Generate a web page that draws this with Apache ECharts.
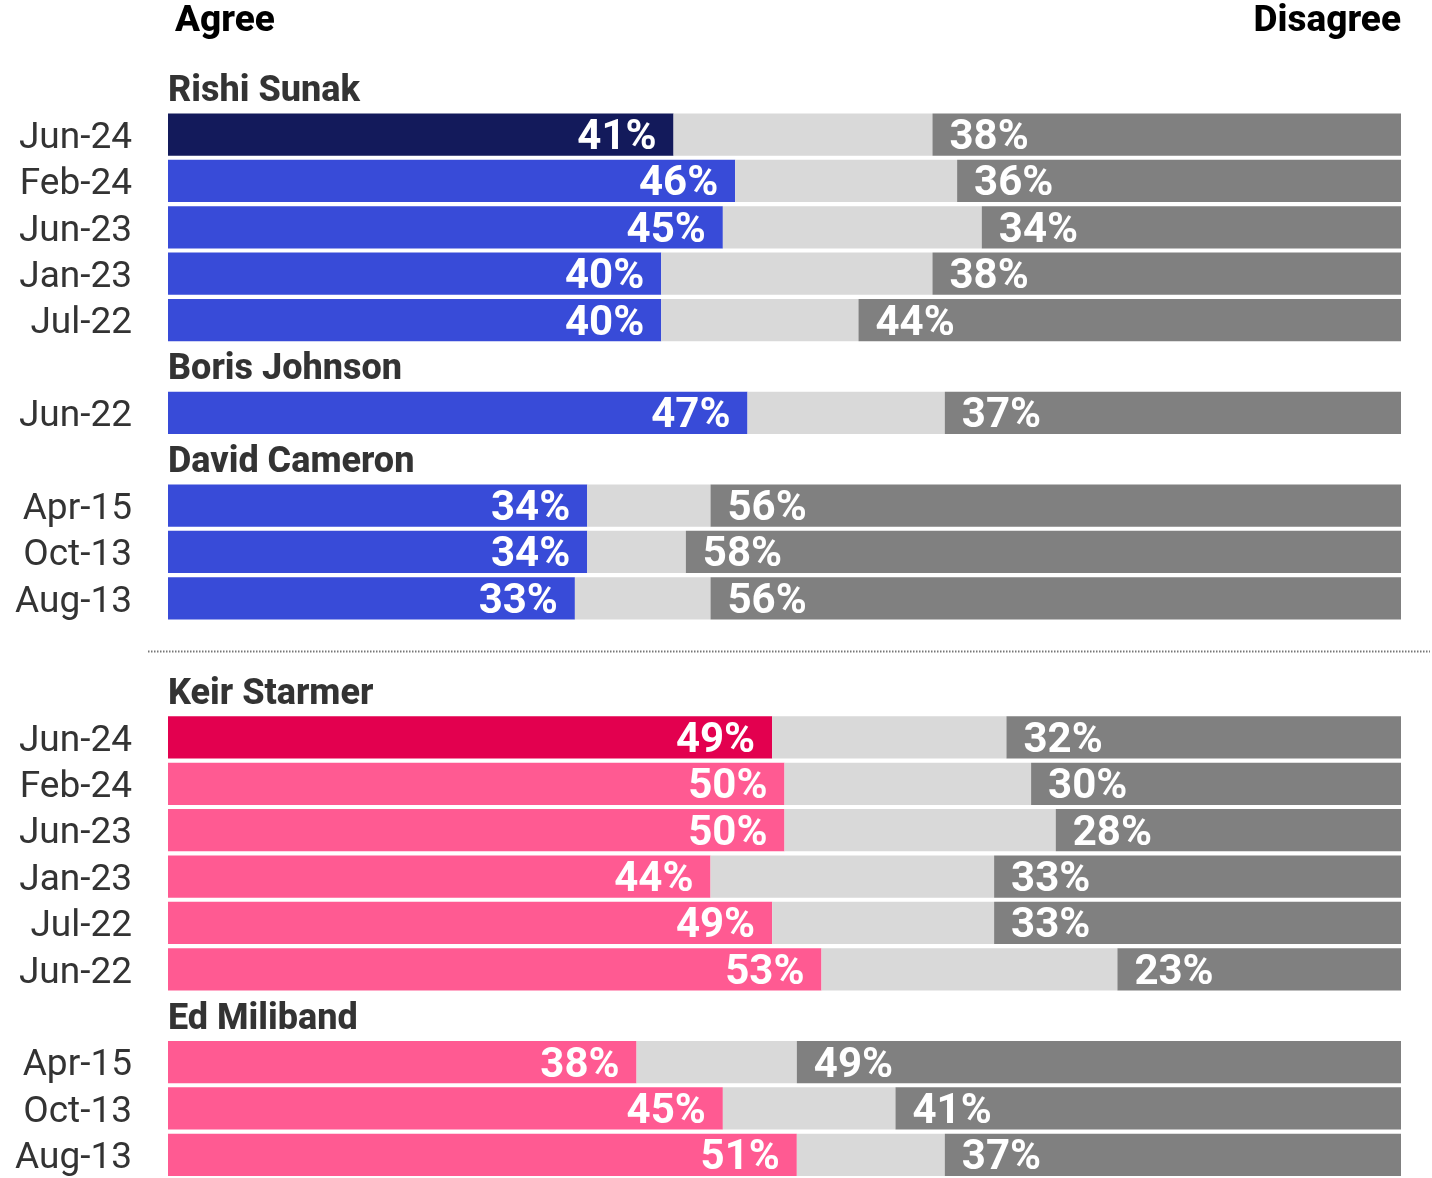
<!DOCTYPE html>
<html>
<head>
<meta charset="utf-8">
<script src="https://cdn.jsdelivr.net/npm/echarts@6/dist/echarts.min.js"></script>
<style>
  html, body { margin: 0; padding: 0; background: #ffffff; }
  #chart { width: 1432px; height: 1178px; }
</style>
</head>
<body>
<div id="chart"></div>
<script>
// Survey responses: share who agree / neither / disagree, by leader and date
const sunakDates     = ['Jun-24', 'Feb-24', 'Jun-23', 'Jan-23', 'Jul-22'];
const sunakAgree     = [41, 46, 45, 40, 40];
const sunakNeither   = [21, 18, 21, 22, 16];
const sunakDisagree  = [38, 36, 34, 38, 44];

const johnsonDates    = ['Jun-22'];
const johnsonAgree    = [47];
const johnsonNeither  = [16];
const johnsonDisagree = [37];

const cameronDates    = ['Apr-15', 'Oct-13', 'Aug-13'];
const cameronAgree    = [34, 34, 33];
const cameronNeither  = [10, 8, 11];
const cameronDisagree = [56, 58, 56];

const starmerDates    = ['Jun-24', 'Feb-24', 'Jun-23', 'Jan-23', 'Jul-22', 'Jun-22'];
const starmerAgree    = [49, 50, 50, 44, 49, 53];
const starmerNeither  = [19, 20, 22, 23, 18, 24];
const starmerDisagree = [32, 30, 28, 33, 33, 23];

const milibandDates    = ['Apr-15', 'Oct-13', 'Aug-13'];
const milibandAgree    = [38, 45, 51];
const milibandNeither  = [13, 14, 12];
const milibandDisagree = [49, 41, 37];

const leaderNames = ['Rishi Sunak', 'Boris Johnson', 'David Cameron', 'Keir Starmer', 'Ed Miliband'];
const axisEnds = ['Agree', 'Disagree'];

// palette
const CON_LATEST = '#131a5b';
const CON = '#384bd8';
const LAB_LATEST = '#e3004f';
const LAB = '#ff5a92';
const NEITHER = '#d9d9d9';
const DISAGREE = '#808080';

const groups = [
  { name: leaderNames[0], dates: sunakDates,    agree: sunakAgree,    neither: sunakNeither,    disagree: sunakDisagree,    color: CON, latest: CON_LATEST },
  { name: leaderNames[1], dates: johnsonDates,  agree: johnsonAgree,  neither: johnsonNeither,  disagree: johnsonDisagree,  color: CON },
  { name: leaderNames[2], dates: cameronDates,  agree: cameronAgree,  neither: cameronNeither,  disagree: cameronDisagree,  color: CON, breakAfter: true },
  { name: leaderNames[3], dates: starmerDates,  agree: starmerAgree,  neither: starmerNeither,  disagree: starmerDisagree,  color: LAB, latest: LAB_LATEST },
  { name: leaderNames[4], dates: milibandDates, agree: milibandAgree, neither: milibandNeither, disagree: milibandDisagree, color: LAB }
];

// Build one category row per header / response / divider
const categories = [];
const agreeData = [];
const neitherData = [];
const disagreeData = [];
const headerData = [];
let dividerIndex = -1;

groups.forEach(g => {
  headerData.push({ value: [0, categories.length], name: g.name });
  categories.push('');
  agreeData.push(null); neitherData.push(null); disagreeData.push(null);
  g.dates.forEach((d, i) => {
    categories.push(d);
    const c = (i === 0 && g.latest) ? g.latest : g.color;
    agreeData.push({ value: g.agree[i], itemStyle: { color: c } });
    neitherData.push(g.neither[i]);
    disagreeData.push(g.disagree[i]);
  });
  if (g.breakAfter) {
    dividerIndex = categories.length;
    categories.push('');
    agreeData.push(null); neitherData.push(null); disagreeData.push(null);
  }
});

const chart = echarts.init(document.getElementById('chart'), null, { renderer: 'canvas' });

const pctLabel = {
  show: true,
  color: '#ffffff',
  fontFamily: 'Roboto',
  fontWeight: 700,
  fontSize: 42,
  distance: 17,
  offset: [0, 4],
  formatter: p => p.value + '%'
};

const option = {
  animation: false,
  backgroundColor: '#ffffff',
  grid: { left: 168, right: 31, top: 65, height: 1116, containLabel: false },
  xAxis: {
    type: 'value', position: 'top', min: 0, max: 100, interval: 100,
    axisLine: { show: false }, axisTick: { show: false }, splitLine: { show: false },
    axisLabel: {
      show: true, margin: 25,
      alignMinLabel: 'left', alignMaxLabel: 'right',
      formatter: v => v === 0 ? '{a|' + axisEnds[0] + '}' : (v === 100 ? '{d|' + axisEnds[1] + '}' : ''),
      rich: {
        a: { fontFamily: 'Roboto', fontWeight: 800, fontSize: 37, color: '#000000', padding: [0, 0, 0, 7] },
        d: { fontFamily: 'Roboto', fontWeight: 800, fontSize: 37, color: '#000000' }
      }
    }
  },
  yAxis: {
    type: 'category', inverse: true, data: categories,
    axisLine: { show: false }, axisTick: { show: false }, splitLine: { show: false },
    axisLabel: {
      margin: 36, interval: 0, align: 'right',
      formatter: v => v ? '{t|' + v + '}' : '',
      rich: {
        t: {
          fontFamily: 'Roboto', fontSize: 37, color: '#333333',
          lineHeight: 45, verticalAlign: 'bottom'
        }
      }
    }
  },
  series: [
    {
      name: 'Agree', type: 'bar', stack: 'resp', barWidth: '91%',
      data: agreeData,
      label: Object.assign({ position: 'insideRight' }, pctLabel)
    },
    {
      name: 'Neither', type: 'bar', stack: 'resp', barWidth: '91%',
      itemStyle: { color: NEITHER },
      data: neitherData,
      label: { show: false }
    },
    {
      name: 'Disagree', type: 'bar', stack: 'resp', barWidth: '91%',
      itemStyle: { color: DISAGREE },
      data: disagreeData,
      label: Object.assign({ position: 'insideLeft' }, pctLabel)
    },
    {
      name: 'Leader', type: 'scatter', symbolSize: 0,
      data: headerData,
      silent: true,
      label: {
        show: true, position: 'right', distance: 0, offset: [0, 4],
        formatter: p => p.name,
        fontFamily: 'Roboto', fontWeight: 800, fontSize: 36, color: '#000000'
      }
    }
  ]
};

chart.setOption(option);

// dotted divider between the two party blocks
const yDiv = chart.convertToPixel({ yAxisIndex: 0 }, dividerIndex) + 6;
const xL = chart.convertToPixel({ xAxisIndex: 0 }, 0) - 20;
const xR = chart.convertToPixel({ xAxisIndex: 0 }, 100) + 29;
chart.setOption({
  graphic: [{
    type: 'line', silent: true,
    shape: { x1: xL, y1: Math.round(yDiv) + 0.5, x2: xR, y2: Math.round(yDiv) + 0.5 },
    style: { stroke: '#777777', lineWidth: 2, lineDash: [1.5, 1.5] }
  }]
});
</script>
</body>
</html>
